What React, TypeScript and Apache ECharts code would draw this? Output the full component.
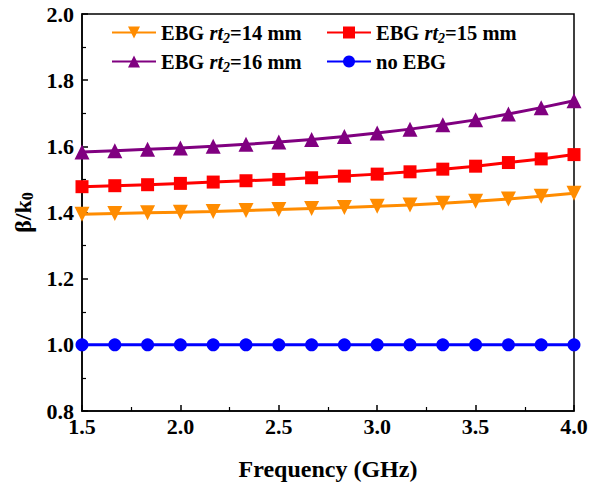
import React, { useEffect, useRef } from "react";
import * as echarts from "echarts";

const freq = [1.5, 1.6667, 1.8333, 2.0, 2.1667, 2.3333, 2.5, 2.6667, 2.8333, 3.0, 3.1667, 3.3333, 3.5, 3.6667, 3.8333, 4.0];
const rt14 = [1.395, 1.397, 1.399, 1.401, 1.403, 1.406, 1.409, 1.412, 1.415, 1.419, 1.423, 1.428, 1.434, 1.441, 1.449, 1.458];
const rt15 = [1.478, 1.481, 1.484, 1.488, 1.492, 1.496, 1.500, 1.505, 1.510, 1.516, 1.523, 1.531, 1.540, 1.551, 1.562, 1.575];
const rt16 = [1.583, 1.587, 1.591, 1.595, 1.600, 1.606, 1.613, 1.621, 1.630, 1.640, 1.652, 1.665, 1.680, 1.698, 1.717, 1.738];
const noEbg = [1.0, 1.0, 1.0, 1.0, 1.0, 1.0, 1.0, 1.0, 1.0, 1.0, 1.0, 1.0, 1.0, 1.0, 1.0, 1.0];

const seriesNames = ["EBG rt2=14 mm", "EBG rt2=15 mm", "EBG rt2=16 mm", "no EBG"];
const legendLabels: Record<string, string> = {
  "EBG rt2=14 mm": "{b|EBG }{i|rt}{s|2}{b|=14 mm}",
  "EBG rt2=15 mm": "{b|EBG }{i|rt}{s|2}{b|=15 mm}",
  "EBG rt2=16 mm": "{b|EBG }{i|rt}{s|2}{b|=16 mm}",
  "no EBG": "{b|no EBG}",
};

const FONT = "'Liberation Serif', 'Times New Roman', serif";

export default function App() {
  const ref = useRef<HTMLDivElement>(null);
  useEffect(() => {
    if (!ref.current) return;
    const chart = echarts.init(ref.current, undefined, { renderer: "svg" });
    const pair = (ys: number[]) => freq.map((x, i) => [x, ys[i]]);
    const rich = {
      b: { fontFamily: FONT, fontWeight: "bold", fontSize: 20.5, color: "#000" },
      i: { fontFamily: FONT, fontWeight: "bold", fontStyle: "italic", fontSize: 20.5, color: "#000" },
      s: { fontFamily: FONT, fontWeight: "bold", fontStyle: "italic", fontSize: 14, color: "#000", verticalAlign: "bottom", padding: [11, 0, 0, 0] },
    };
    const mkLegend = (name: string, left: number, top: number) => ({
      data: [name],
      left,
      top,
      itemWidth: 44,
      itemHeight: 15,
      itemGap: 0,
      formatter: (n: string) => legendLabels[n],
      textStyle: { rich, fontFamily: FONT, fontWeight: "bold", fontSize: 20.5, color: "#000" },
      selectedMode: false,
    });
    const mkSeries = (name: string, data: number[], color: string, symbol: string, size: number, rotate = 0) => ({
      name,
      type: "line",
      data: pair(data),
      symbol,
      symbolSize: size,
      symbolRotate: rotate,
      lineStyle: { color, width: 3 },
      itemStyle: { color },
      clip: true,
    });
    chart.setOption({
      animation: false,
      grid: {
        left: 82, right: 23, top: 14, bottom: 72,
        outerBoundsMode: "none",
        containLabel: false,
        show: true, borderColor: "#000", borderWidth: 1.5, backgroundColor: "transparent",
      },
      legend: [
        mkLegend(seriesNames[0], 106, 17),
        mkLegend(seriesNames[1], 321, 17),
        mkLegend(seriesNames[2], 106, 46),
        mkLegend(seriesNames[3], 321, 46),
      ],
      xAxis: {
        type: "value",
        min: 1.5,
        max: 4.0,
        interval: 0.5,
        name: "Frequency (GHz)",
        nameLocation: "middle",
        nameGap: 46,
        nameTextStyle: { fontFamily: FONT, fontWeight: "bold", fontSize: 24, color: "#000" },
        axisLine: { show: true, lineStyle: { color: "#000", width: 1.5 } },
        axisTick: { show: true, inside: true, length: 6, lineStyle: { color: "#000", width: 1.5 } },
        minorTick: { show: true, splitNumber: 2, length: 4, lineStyle: { color: "#000", width: 1.2 } },
        axisLabel: { fontFamily: FONT, fontWeight: "bold", fontSize: 22, color: "#000", margin: 4, formatter: (v: number) => v.toFixed(1) },
        splitLine: { show: false },
      },
      yAxis: {
        type: "value",
        min: 0.8,
        max: 2.0,
        interval: 0.2,
        name: "{a|β/k}{s|0}",
        nameLocation: "middle",
        nameGap: 38,
        nameTextStyle: {
          rich: {
            a: { fontFamily: FONT, fontWeight: "bold", fontSize: 24, color: "#000" },
            s: { fontFamily: FONT, fontWeight: "bold", fontSize: 16, color: "#000", verticalAlign: "bottom", padding: [10, 0, 0, 0] },
          },
        },
        axisLine: { show: true, lineStyle: { color: "#000", width: 1.5 } },
        axisTick: { show: true, inside: true, length: 6, lineStyle: { color: "#000", width: 1.5 } },
        minorTick: { show: true, splitNumber: 2, length: 4, lineStyle: { color: "#000", width: 1.2 } },
        axisLabel: { fontFamily: FONT, fontWeight: "bold", fontSize: 22, color: "#000", margin: 8, formatter: (v: number) => v.toFixed(1) },
        splitLine: { show: false },
      },
      series: [
        mkSeries(seriesNames[0], rt14, "#FF8C00", "triangle", 15, 180),
        mkSeries(seriesNames[1], rt15, "#FF0000", "rect", 13),
        mkSeries(seriesNames[2], rt16, "#800080", "triangle", 15),
        mkSeries(seriesNames[3], noEbg, "#0000FF", "circle", 13),
      ],
    });
    return () => chart.dispose();
  }, []);
  return <div ref={ref} style={{ width: 597, height: 483, position: "absolute", left: 0, top: 0 }} />;
}
